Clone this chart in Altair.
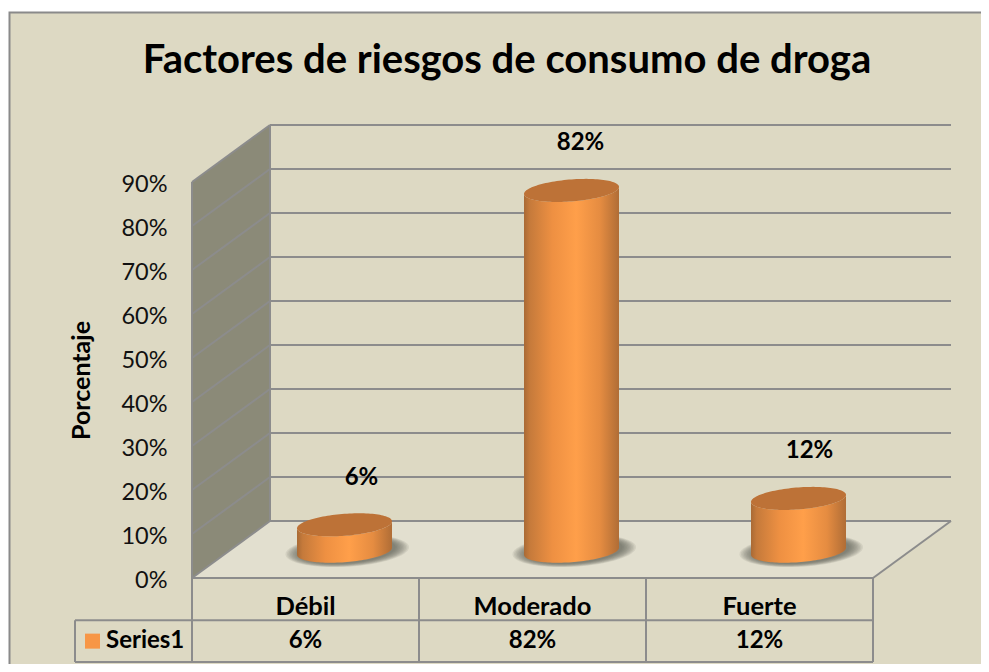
import numpy as np
import pandas as pd
import altair as alt

# ---------- values ----------
categories = ["Débil", "Moderado", "Fuerte"]
values = [6, 82, 12]
value_labels = ["6%", "82%", "12%"]
ticks = [0, 10, 20, 30, 40, 50, 60, 70, 80, 90]
series_name = "Series1"
chart_title = "Factores de riesgos de consumo de droga"

# ---------- layout ----------
W, H = 973, 656
X0, Y0 = 192, 578       # where category 0 / value 0 sit in the picture
PX_X = 681 / 3          # pixels per category
PX_Y = 396 / 90         # pixels per percent
X_DOMAIN = [(8 - X0) / PX_X, (8 + W - X0) / PX_X]
Y_DOMAIN = [(Y0 - 8 - H) / PX_Y, (Y0 - 8) / PX_Y]
DX = 78 / PX_X          # depth of the floor, in category units
DY = 57 / PX_Y          # depth of the floor, in percent units
R = 47.5 / PX_X
KY = 11.0 / PX_Y
SY = 3.5 / PX_Y
FONT = "Lato"
GRID = "#8C8C8C"
ROW1, ROW2 = -9.6, -19.1
LEG_LEFT = -117 / PX_X

x_s = alt.Scale(domain=X_DOMAIN, nice=False, zero=False)
y_s = alt.Scale(domain=Y_DOMAIN, nice=False, zero=False)
y_axis = alt.Axis(values=ticks, labelExpr="datum.value + '%'", grid=False, ticks=False,
                  domain=False, offset=-159, labelPadding=0, labelFont=FONT,
                  labelFontSize=23.5, labelColor="#111111", labelOffset=2, zindex=1,
                  titleFont=FONT, titleFontSize=25, titleFontWeight="bold",
                  titleColor="#000000", titleX=-86, titleY=372,
                  titleAlign="center", titleBaseline="middle")
X = alt.X("x:Q", scale=x_s, axis=None, title=None)
Y = alt.Y("y:Q", scale=y_s, axis=y_axis, title="Porcentaje", stack=None)
X2 = alt.X2("x2:Q")
Y2 = alt.Y2("y2:Q")

# ---------- frame ----------
frame = alt.Chart(pd.DataFrame([{"x": (9.5 - X0) / PX_X, "x2": 6, "y": (Y0 - 12.5) / PX_Y, "y2": -60}])).mark_rect(
    fill="#DDD9C3", stroke="#8A8A8A", strokeWidth=2, clip=True
).encode(x=X, x2=X2, y=Y, y2=Y2)

# ---------- walls and floor ----------
wall = alt.Chart(pd.DataFrame({"x": [0, DX], "y": [0, DY], "y2": [90, 90 + DY]})).mark_area(
    orient="vertical", fill="#8B8A78").encode(x=X, y=Y, y2=Y2)

floor = alt.Chart(pd.DataFrame({
    "x": [0, DX, 3, 3 + DX], "y": [0, 0, 0, DY], "y2": [0, DY, DY, DY]
})).mark_area(orient="vertical", fill="#E2DFCF").encode(x=X, y=Y, y2=Y2)

segments = []
for t in ticks:
    segments.append({"x": 0, "y": t, "x2": DX, "y2": t + DY})
    segments.append({"x": DX, "y": t + DY, "x2": 3 + DX, "y2": t + DY})
segments += [
    {"x": 0, "y": 0, "x2": 0, "y2": 90},
    {"x": DX, "y": DY, "x2": DX, "y2": 90 + DY},
    {"x": 3, "y": 0, "x2": 3 + DX, "y2": DY},
]
grid = alt.Chart(pd.DataFrame(segments)).mark_rule(color=GRID, strokeWidth=2).encode(
    x=X, x2=X2, y=Y, y2=Y2)

# ---------- cylinders ----------
t = np.linspace(np.pi, 0, 61)
cos_t, sin_t = np.cos(t), np.sin(t)
shadow_rows, body_rows, cap_rows = [], [], []
for i, v in enumerate(values):
    cx = i + 0.5 + DX * 0.5
    base = DY * 0.47
    top = base + v
    for j in range(len(t)):
        body_rows.append({"id": i, "x": cx + R * cos_t[j],
                          "y": base + SY * cos_t[j] - KY * sin_t[j],
                          "y2": top + SY * cos_t[j] - KY * sin_t[j]})
        cap_rows.append({"id": i, "x": cx + R * cos_t[j],
                         "y": top + SY * cos_t[j] - KY * sin_t[j],
                         "y2": top + SY * cos_t[j] + KY * sin_t[j]})
    for k, f in enumerate(np.linspace(1.0, 0.78, 10)):
        for j in range(len(t)):
            shadow_rows.append({"id": f"{i}-{k}", "x": cx + 0.012 + 1.3 * R * f * cos_t[j],
                                "y": base + 0.1 + SY * cos_t[j] - 1.45 * KY * f * sin_t[j],
                                "y2": base + 0.1 + SY * cos_t[j] + 1.45 * KY * f * sin_t[j]})

shadow = alt.Chart(pd.DataFrame(shadow_rows)).mark_area(
    orient="vertical", fill="#5E5E4E", opacity=0.11
).encode(x=X, y=Y, y2=Y2, detail="id:N")

body_fill = alt.Gradient(
    gradient="linear", x1=0, x2=1, y1=0, y2=0,
    stops=[
        alt.GradientStop(offset=0, color="#A96A35"),
        alt.GradientStop(offset=0.06, color="#C57A3B"),
        alt.GradientStop(offset=0.3, color="#EE9042"),
        alt.GradientStop(offset=0.55, color="#FF9F4A"),
        alt.GradientStop(offset=0.8, color="#E58C41"),
        alt.GradientStop(offset=1, color="#B06D36"),
    ],
)
body = alt.Chart(pd.DataFrame(body_rows)).mark_area(orient="vertical", fill=body_fill).encode(
    x=X, y=Y, y2=Y2, detail="id:N")
cap = alt.Chart(pd.DataFrame(cap_rows)).mark_area(orient="vertical", fill="#BD7237").encode(
    x=X, y=Y, y2=Y2, detail="id:N")

# ---------- data labels ----------
LABEL_DX = [17 / PX_X, 9 / PX_X, 11 / PX_X]
LABEL_DY = 47 / PX_Y
labels = alt.Chart(pd.DataFrame({
    "x": [i + 0.5 + DX * 0.5 + LABEL_DX[i] for i in range(3)],
    "y": [DY * 0.47 + v + LABEL_DY for v in values],
    "t": value_labels,
})).mark_text(font=FONT, fontWeight="bold", fontSize=24, color="#000000").encode(x=X, y=Y, text="t:N")

# ---------- data table ----------
tbl = [
    {"x": 0, "x2": 0, "y": 0, "y2": ROW2},
    {"x": 1, "x2": 1, "y": 0, "y2": ROW2},
    {"x": 2, "x2": 2, "y": 0, "y2": ROW2},
    {"x": 3, "x2": 3, "y": 0, "y2": ROW2},
    {"x": LEG_LEFT, "x2": LEG_LEFT, "y": ROW1, "y2": ROW2},
    {"x": LEG_LEFT, "x2": 3, "y": ROW1, "y2": ROW1},
    {"x": LEG_LEFT, "x2": 3, "y": ROW2, "y2": ROW2},
    {"x": 0, "x2": 3, "y": 0, "y2": 0},
]
table_lines = alt.Chart(pd.DataFrame(tbl)).mark_rule(color=GRID, strokeWidth=2).encode(
    x=X, x2=X2, y=Y, y2=Y2)

cat_text = alt.Chart(pd.DataFrame({
    "x": [i + 0.5 for i in range(3)], "y": [ROW1 / 2 - 1.9] * 3, "t": categories
})).mark_text(font=FONT, fontWeight="bold", fontSize=25.5, color="#000000").encode(x=X, y=Y, text="t:N")
val_text = alt.Chart(pd.DataFrame({
    "x": [i + 0.5 for i in range(3)], "y": [(ROW1 + ROW2) / 2] * 3, "t": value_labels
})).mark_text(font=FONT, fontWeight="bold", fontSize=24, color="#000000").encode(x=X, y=Y, text="t:N")

swatch = alt.Chart(pd.DataFrame({"x": [LEG_LEFT + 17.5 / PX_X], "y": [(ROW1 + ROW2) / 2]})).mark_point(
    shape="square", filled=True, size=225, color="#F79646", opacity=1, strokeWidth=0
).encode(x=X, y=Y)
leg_text = alt.Chart(pd.DataFrame({
    "x": [LEG_LEFT + 31 / PX_X], "y": [(ROW1 + ROW2) / 2], "t": [series_name]
})).mark_text(font=FONT, fontWeight="bold", fontSize=24, align="left", color="#000000").encode(
    x=X, y=Y, text="t:N")

title_mark = alt.Chart(pd.DataFrame({"x": [(507 - X0) / PX_X], "y": [(Y0 - 73) / PX_Y], "t": [chart_title]})).mark_text(
    font=FONT, fontWeight="bold", fontSize=40, baseline="alphabetic", color="#000000"
).encode(x=X, y=Y, text="t:N")

chart = alt.layer(
    frame, wall, floor, grid, shadow, body, cap, labels,
    table_lines, cat_text, val_text, swatch, leg_text, title_mark,
).properties(
    width=W, height=H, padding=0,
    autosize=alt.AutoSizeParams(type="none", contains="padding"),
    background="white",
).configure_view(stroke=None)

chart.save("out.html", embed_options={"renderer": "svg", "actions": False})
